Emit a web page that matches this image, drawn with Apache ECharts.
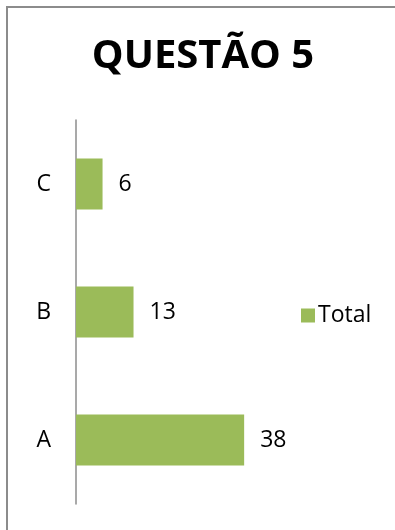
<!DOCTYPE html>
<html>
<head>
<meta charset="utf-8">
<script src="https://cdn.jsdelivr.net/npm/echarts@6/dist/echarts.min.js"></script>
<style>
html,body{margin:0;padding:0;background:#fff;}
#chart{width:395px;height:530px;}
</style>
</head>
<body>
<div id="chart"></div>
<script>
const titleText = "QUESTÃO 5";
const categories = ["A", "B", "C"];
const seriesName = "Total";
const values = [38, 13, 6];

const chart = echarts.init(document.getElementById('chart'), null, {renderer: 'canvas'});
const font = "'Open Sans', 'Liberation Sans', sans-serif";
chart.setOption({
  animation: false,
  backgroundColor: '#ffffff',
  textStyle: {fontFamily: font},
  title: {
    text: titleText,
    left: 198, top: 32,
    textAlign: 'center',
    textStyle: {fontFamily: font, fontWeight: 'bold', fontSize: 40, color: '#000'}
  },
  legend: {
    data: [seriesName],
    left: 296, top: 299,
    icon: 'rect', itemWidth: 14, itemHeight: 14, itemGap: 4,
    textStyle: {fontFamily: font, fontSize: 23, color: '#000', padding: [0,0,0,-2]}
  },
  graphic: [{
    type: 'rect', silent: true,
    shape: {x: 7, y: 7, width: 420, height: 560},
    style: {fill: 'none', stroke: '#8c8c8c', lineWidth: 2}
  }],
  grid: {left: 76, top: 120, width: 177, height: 384, containLabel: false},
  xAxis: {
    type: 'value', min: 0, max: 40, show: false
  },
  yAxis: {
    type: 'category', data: categories,
    axisLine: {show: true, lineStyle: {color: '#8c8c8c', width: 1.5}},
    axisTick: {show: false},
    axisLabel: {fontFamily: font, fontSize: 23, color: '#000', margin: 25}
  },
  series: [{
    name: seriesName, type: 'bar', data: values,
    barWidth: 51,
    itemStyle: {color: '#9BBB59'},
    label: {show: true, position: 'right', distance: 16, fontFamily: font, fontSize: 23, color: '#000'}
  }]
});
</script>
</body>
</html>
